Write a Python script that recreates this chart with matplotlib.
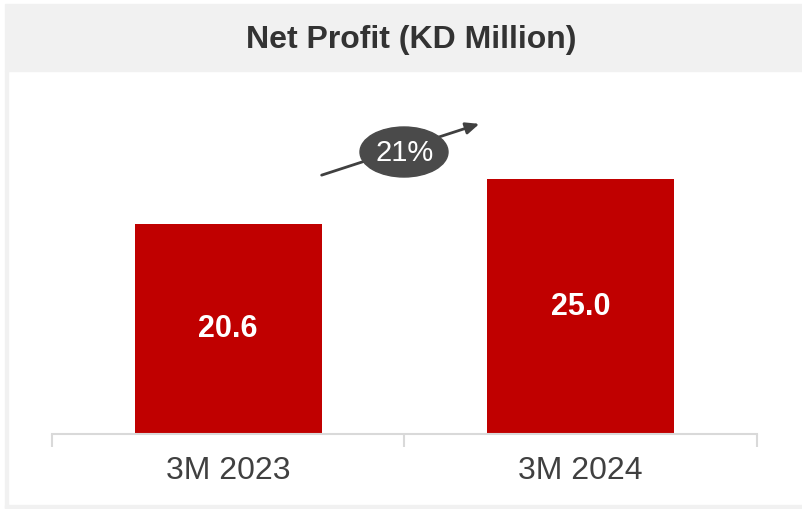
import matplotlib.pyplot as plt
from matplotlib.patches import Rectangle, Ellipse

plt.rcParams['font.family'] = ['Liberation Sans', 'DejaVu Sans']

categories = ['3M 2023', '3M 2024']
values = [20.6, 25.0]
growth_label = '21%'

W, H = 803, 509
fig = plt.figure(figsize=(W / 100, H / 100), dpi=100)


def fx(px):
    return px / W


def fy(py):
    return 1 - py / H


# header bar and frame
fig.patches.append(Rectangle((fx(5), fy(71)), fx(798), 67 / H, transform=fig.transFigure,
                             color='#f1f1f1', zorder=0))
fig.patches.append(Rectangle((fx(5), fy(508)), fx(3), 437 / H, transform=fig.transFigure,
                             color='#f1f1f1', zorder=0))
fig.patches.append(Rectangle((fx(5), fy(508)), fx(798), 3 / H, transform=fig.transFigure,
                             color='#f1f1f1', zorder=0))
fig.text(fx(411), fy(40), 'Net Profit (KD Million)', ha='center', va='center',
         fontsize=23, fontweight='bold', color='#333333')

# plot area: baseline at y=434, axes top at y=80
ax = fig.add_axes([fx(52), fy(434), fx(705), 354 / H])
ax.set_facecolor('none')
x = range(len(categories))
bars = ax.bar(x, values, width=0.53, color='#c00000', zorder=2)
ax.set_xlim(-0.5, 1.5)
ax.set_ylim(0, 354 / 10.19)

for b, v in zip(bars, values):
    ax.text(b.get_x() + b.get_width() / 2, v / 2, f'{v:.1f}', ha='center', va='center',
            color='white', fontsize=22, fontweight='bold', zorder=3)

for s in ['top', 'right', 'left']:
    ax.spines[s].set_visible(False)
ax.spines['bottom'].set_color('#d9d9d9')
ax.spines['bottom'].set_linewidth(1.5)
ax.set_yticks([])
ax.set_xticks([-0.5, 0.5, 1.5], minor=False)
ax.set_xticklabels([])
ax.tick_params(axis='x', length=9, width=1.5, color='#d9d9d9', direction='out')
for i, c in enumerate(categories):
    ax.text(i, -3.6, c, ha='center', va='center', fontsize=23, color='#404040')

# growth arrow with ellipse
ax.annotate('', xy=(fx(482), fy(123)), xytext=(fx(319), fy(176)),
            xycoords='figure fraction', textcoords='figure fraction',
            arrowprops=dict(arrowstyle='-|>,head_length=0.8,head_width=0.35', color='#404040', lw=2))
fig.patches.append(Ellipse((fx(404), fy(152)), fx(88), 50 / H, transform=fig.transFigure,
                           color='#4a4a4a', zorder=5))
fig.text(fx(405), fy(153), growth_label, ha='center', va='center', fontsize=21,
         color='white', zorder=6)

fig.savefig('out.png', dpi=100)
